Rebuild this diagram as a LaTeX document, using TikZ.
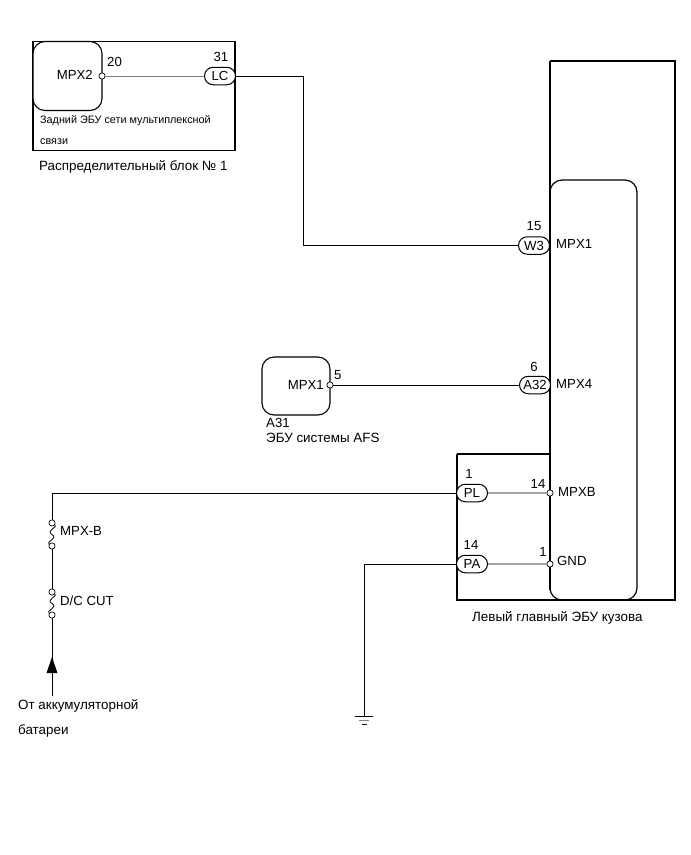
\documentclass[tikz,border=0pt]{standalone}
\usepackage{fontspec}
\setmainfont{Liberation Sans}
\usetikzlibrary{shapes.misc,calc}
\tikzset{
 x=1pt,y=-1pt,
 wire/.style={line width=0.8pt,black},
 box/.style={line width=1.2pt,black},
 ecu/.style={draw,line width=1.1pt,rounded corners=12pt,inner sep=0pt,fill=white},
 pill/.style={draw,rounded rectangle,line width=1pt,minimum width=31pt,minimum height=17.5pt,inner sep=0pt,fill=white,font=\fontsize{13.2}{15}\selectfont},
 pin/.style={draw,circle,line width=0.7pt,minimum size=6.2pt,inner sep=0pt,fill=white},
 lab/.style={inner sep=0pt,anchor=west,font=\fontsize{13.2}{15}\selectfont},
 clab/.style={inner sep=0pt,font=\fontsize{13.2}{15}\selectfont},
 ruslab/.style={inner sep=0pt,anchor=west,font=\fontsize{13.4}{15}\selectfont},
 small/.style={inner sep=0pt,anchor=west,font=\fontsize{10.8}{12}\selectfont},
}
\newcommand{\fusecurve}[2]{\draw[wire] (#1) .. controls +(7,4) and +(-7,-4) .. ($(#1)!0.5!(#2)$) .. controls +(7,4) and +(-7,-4) .. (#2);}
\begin{document}
\begin{tikzpicture}
\useasboundingbox (0,0) rectangle (691,855);
\fill[white] (0,0) rectangle (691,855);
% block 1
\node[draw,box,minimum width=202pt,minimum height=109.5pt,inner sep=0pt] (blockA) at (134,96) {};
\node[ecu,minimum width=69pt,minimum height=69pt] (mpxtwo) at (67.5,76) {};
\node[pin] (p20) at (102,76) {};
\node[pill] (LC) at (220,76) {LC};
\draw[wire,black!50] (p20) -- (LC);
\node[lab,anchor=east] at (93,75) {MPX2};
\node[lab] at (107,62) {20};
\node[clab] at (221,57) {31};
\node[small] at (40,121) {Задний ЭБУ сети мультиплексной};
\node[small] at (40,142) {связи};
\node[ruslab] at (39,167) {Распределительный блок № 1};
% main ECU
\coordinate (bl) at (457,454);
\draw[box] (bl) -- (550,454);
\draw[box] (bl) -- (457,600) -- (675,600) -- (675,61) -- (550,61);
\draw[box,rounded corners=12pt] (550,600) -- (637,600) -- (637,180) -- (550,180) -- cycle;
\draw[line width=1.6pt] (550,61) -- (550,454);
\draw[box] (550,454) -- (550,590);
\node[pill] (W3) at (534,245.5) {W3};
\node[pill] (A32) at (535,385) {A32};
\node[pill] (PL) at (472,493) {PL};
\node[pill] (PA) at (472,564) {PA};
\node[pin] (pb) at (550,493) {};
\node[pin] (pg) at (550,564) {};
\draw[wire] (PL) -- (pb);
\draw[wire] (PA) -- (pg);
\node[clab] at (534,226) {15};
\node[clab] at (534,367) {6};
\node[lab] at (556,244) {MPX1};
\node[lab] at (556,384) {MPX4};
\node[lab] at (558,492) {MPXB};
\node[lab] at (557,561) {GND};
\node[clab] at (469,474) {1};
\node[clab] at (471,545) {14};
\node[clab] at (538,484) {14};
\node[clab] at (543,552) {1};
\node[ruslab] at (472,618) {Левый главный ЭБУ кузова};
% wire LC - W3
\draw[wire] (LC.east) -- (303,76) -- (303,245.5) -- (W3.west);
% A31
\node[ecu,minimum width=68pt,minimum height=58pt] (afs) at (296,386) {};
\node[pin] (p5) at (330,385) {};
\draw[wire] (p5) -- (A32.west);
\node[lab,anchor=east] at (324,385) {MPX1};
\node[lab] at (334,375) {5};
\node[lab] at (266,423) {A31};
\node[ruslab] at (266,438) {ЭБУ системы AFS};
% fuses
\node[pin] (f1) at (52,523) {};
\node[pin] (f2) at (52,546) {};
\node[pin] (f3) at (52,592) {};
\node[pin] (f4) at (52,615) {};
\coordinate (src) at (52,696);
\coordinate (gndtop) at (364,716);
\draw[wire] (PL.west) -- (52,493) -- (f1);
\fusecurve{f1}{f2}
\draw[wire] (f2) -- (f3);
\fusecurve{f3}{f4}
\draw[wire] (f4) -- (src);
\fill[black] (52,657) -- (57.5,673) -- (46.5,673) -- cycle;
\node[lab] at (60,531) {MPX-B};
\node[lab] at (60,601) {D/C CUT};
\node[ruslab] at (18,706) {От аккумуляторной};
\node[ruslab] at (18,731) {батареи};
% ground
\draw[wire] (PA.west) -- (364,564) -- (gndtop);
\draw[wire] (355,716.5) -- (373,716.5);
\draw[wire,black!50] (359,720.5) -- (369,720.5);
\draw[wire] (361.5,724) -- (366.5,724);
\end{tikzpicture}
\end{document}
